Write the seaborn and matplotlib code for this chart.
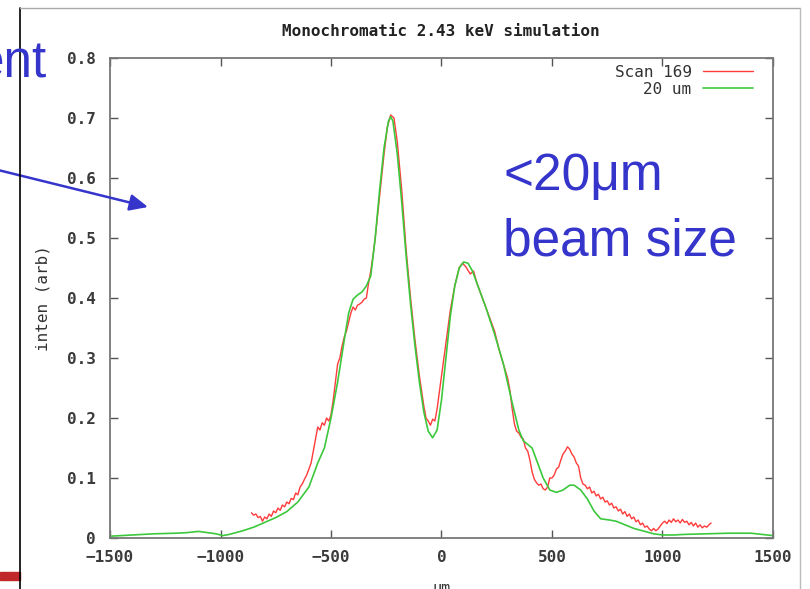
import numpy as np
import pandas as pd
import matplotlib
matplotlib.use("Agg")
import matplotlib.pyplot as plt
from matplotlib.lines import Line2D
from matplotlib.patches import Rectangle
import seaborn as sns

# ---------------- data ----------------
sim_x = [-1500, -1400, -1300, -1200, -1150, -1100, -1060, -1020, -990, -960, -900, -850, -800,
         -750, -700, -650, -600, -560, -530, -500, -470, -440, -420, -400, -380, -360, -340,
         -320, -300, -280, -260, -240, -230, -220, -200, -180, -160, -140, -120, -100, -80,
         -60, -40, -20, 0, 20, 40, 60, 80, 100, 120, 140, 160, 200, 240, 280, 320, 350, 370,
         390, 410, 430, 460, 490, 520, 550, 580, 600, 630, 660, 690, 720, 760, 790, 830, 870,
         920, 960, 1000, 1050, 1100, 1200, 1300, 1400, 1450, 1500]
sim_y = [0.003, 0.005, 0.007, 0.008, 0.009, 0.011, 0.009, 0.007, 0.004, 0.006, 0.012, 0.018, 0.026,
         0.034, 0.044, 0.060, 0.085, 0.125, 0.150, 0.200, 0.260, 0.330, 0.375, 0.398, 0.405, 0.410, 0.420,
         0.437, 0.500, 0.580, 0.650, 0.695, 0.702, 0.695, 0.640, 0.560, 0.470, 0.390, 0.320, 0.260, 0.210,
         0.178, 0.167, 0.180, 0.230, 0.300, 0.370, 0.420, 0.450, 0.460, 0.458, 0.445, 0.425, 0.385, 0.340,
         0.290, 0.225, 0.180, 0.162, 0.156, 0.150, 0.130, 0.100, 0.080, 0.076, 0.080, 0.088, 0.088, 0.080,
         0.065, 0.045, 0.032, 0.030, 0.028, 0.022, 0.016, 0.011, 0.007, 0.005, 0.005, 0.006, 0.007, 0.008,
         0.008, 0.006, 0.004]

scan_x = [-860, -850, -840, -830, -820, -810, -800, -790, -780, -770, -760, -750, -740, -730, -720,
          -710, -700, -690, -680, -670, -660, -650, -640, -630, -620, -610, -600, -590, -580, -570,
          -560, -550, -540, -530, -520, -510, -500, -490, -480, -470, -460, -450, -440, -430, -420,
          -410, -400, -390, -380, -370, -360, -350, -340, -330, -320, -310, -300, -280, -260, -245,
          -230, -215, -200, -180, -160, -140, -120, -100, -80, -70, -60, -50, -40, -30, -20, 0, 20,
          40, 60, 80, 95, 110, 130, 145, 160, 180, 200, 220, 240, 260, 280, 300, 310, 320, 330, 340,
          350, 360, 370, 380, 390, 400, 410, 420, 430, 440, 450, 460, 470, 480, 490, 500, 510, 520,
          530, 540, 550, 560, 570, 580, 590, 600, 610, 620, 630, 640, 650, 660, 670, 680, 690, 700,
          710, 720, 730, 740, 750, 760, 770, 780, 790, 800, 810, 820, 830, 840, 850, 860, 870, 880,
          890, 900, 910, 920, 930, 940, 950, 960, 970, 980, 990, 1000, 1010, 1020, 1030, 1040, 1050,
          1060, 1070, 1080, 1090, 1100, 1110, 1120, 1130, 1140, 1150, 1160, 1170, 1180, 1190, 1200,
          1210, 1220]
scan_y = [0.042, 0.038, 0.040, 0.034, 0.036, 0.028, 0.035, 0.032, 0.040, 0.036, 0.045, 0.042, 0.050,
          0.046, 0.055, 0.052, 0.060, 0.057, 0.066, 0.064, 0.075, 0.072, 0.085, 0.090, 0.098, 0.105,
          0.115, 0.125, 0.145, 0.165, 0.185, 0.180, 0.192, 0.188, 0.200, 0.195, 0.205, 0.230, 0.260,
          0.290, 0.300, 0.320, 0.335, 0.345, 0.360, 0.375, 0.385, 0.380, 0.388, 0.390, 0.393, 0.398,
          0.400, 0.425, 0.445, 0.470, 0.500, 0.570, 0.640, 0.685, 0.705, 0.700, 0.660, 0.580, 0.480,
          0.400, 0.330, 0.270, 0.220, 0.200, 0.195, 0.188, 0.198, 0.195, 0.215, 0.270, 0.325, 0.380,
          0.420, 0.450, 0.458, 0.452, 0.440, 0.445, 0.425, 0.405, 0.385, 0.365, 0.345, 0.315, 0.290,
          0.265, 0.245, 0.215, 0.190, 0.178, 0.175, 0.168, 0.165, 0.150, 0.145, 0.130, 0.110, 0.098,
          0.092, 0.088, 0.090, 0.082, 0.080, 0.085, 0.100, 0.100, 0.105, 0.115, 0.118, 0.130, 0.140,
          0.145, 0.152, 0.148, 0.140, 0.135, 0.125, 0.120, 0.100, 0.090, 0.088, 0.082, 0.085, 0.075,
          0.078, 0.070, 0.073, 0.065, 0.068, 0.060, 0.062, 0.055, 0.058, 0.050, 0.052, 0.045, 0.048,
          0.040, 0.044, 0.036, 0.040, 0.032, 0.035, 0.027, 0.030, 0.022, 0.025, 0.018, 0.020, 0.015,
          0.012, 0.016, 0.012, 0.015, 0.020, 0.025, 0.028, 0.024, 0.030, 0.026, 0.032, 0.027, 0.030,
          0.025, 0.031, 0.026, 0.028, 0.022, 0.026, 0.020, 0.025, 0.018, 0.022, 0.017, 0.020, 0.018,
          0.022, 0.025]

x_ticks = [-1500, -1000, -500, 0, 500, 1000, 1500]
x_ticklabels = ["\u22121500", "\u22121000", "\u2212500", "0", "500", "1000", "1500"]
y_ticks = [0, 0.1, 0.2, 0.3, 0.4, 0.5, 0.6, 0.7, 0.8]
y_ticklabels = ["0", "0.1", "0.2", "0.3", "0.4", "0.5", "0.6", "0.7", "0.8"]

scan_df = pd.DataFrame({"um": scan_x, "inten": scan_y})
sim_df = pd.DataFrame({"um": sim_x, "inten": sim_y})

# ---------------- figure ----------------
sns.set_style("white")
W, H = 810, 589
fig = plt.figure(figsize=(W / 100, H / 100), dpi=100)
mono = "DejaVu Sans Mono"

def fx(px):
    return px / W

def fy(py):
    return 1 - py / H

ax = fig.add_axes([fx(110), fy(538), fx(773) - fx(110), fy(58) - fy(538)])

sns.lineplot(data=scan_df, x="um", y="inten", ax=ax, color="#ff3b3b", lw=1.0,
             estimator=None, label="Scan 169")
sns.lineplot(data=sim_df, x="um", y="inten", ax=ax, color="#3cc83c", lw=1.2,
             estimator=None, label="20 um")

ax.set_xlim(-1500, 1500)
ax.set_ylim(0, 0.8)
ax.set_xticks(x_ticks)
ax.set_xticklabels(x_ticklabels)
ax.set_yticks(y_ticks)
ax.set_yticklabels(y_ticklabels)
for lab in ax.get_xticklabels() + ax.get_yticklabels():
    lab.set_family(mono)
    lab.set_fontsize(11.5)
    lab.set_color("#3a3a3a")
    lab.set_fontweight("bold")
ax.tick_params(direction="in", length=6, width=1, color="#555555",
               top=True, right=True, bottom=True, left=True)
ax.tick_params(axis="y", pad=10)
ax.tick_params(axis="x", pad=9)
for sp in ax.spines.values():
    sp.set_color("#777777")
    sp.set_linewidth(1.3)

ax.set_xlabel("um", family=mono, fontsize=11, color="#333333", labelpad=11)
ax.set_ylabel("inten (arb)", family=mono, fontsize=11.5, color="#333333", labelpad=12)

leg = ax.legend(loc="upper right", frameon=False, markerfirst=False,
                bbox_to_anchor=(fx(753), fy(65)), bbox_transform=fig.transFigure,
                prop={"family": mono, "size": 11.5}, handlelength=3.1,
                borderaxespad=0, borderpad=0, labelspacing=0.1, handletextpad=0.75)
for t in leg.get_texts():
    t.set_color("#333333")

fig.text(fx(441), fy(31), "Monochromatic 2.43 keV simulation", family=mono,
         fontsize=11.5, color="#222222", ha="center", va="center", fontweight="bold")

# slide frame around the chart image
fig.add_artist(Line2D([fx(20), fx(20)], [fy(8), 0], color="black", lw=1.2))
fig.add_artist(Line2D([fx(20), fx(800)], [fy(8), fy(8)], color="#aaaaaa", lw=1.0))
fig.add_artist(Line2D([fx(800), fx(800)], [fy(8), 0], color="#bbbbbb", lw=1.0))
fig.add_artist(Rectangle((0, fy(580)), fx(20), fy(572) - fy(580),
                         transform=fig.transFigure, color="#c0282a"))

# slide annotations
blue = "#3535cc"
fig.text(fx(47), fy(78), "ent", family="Liberation Sans", fontsize=37, color=blue,
         ha="right", va="baseline")
fig.text(fx(503), fy(190), "<20\u03bcm", family="Liberation Sans", fontsize=37, color=blue,
         ha="left", va="baseline")
fig.text(fx(503), fy(255), "beam size", family="Liberation Sans", fontsize=37, color=blue,
         ha="left", va="baseline")
ax.annotate("", xy=(148, H - 207), xycoords="figure pixels",
            xytext=(-2, H - 170), textcoords="figure pixels",
            arrowprops=dict(arrowstyle="-|>,head_length=1.1,head_width=0.5",
                            color=blue, lw=1.8, shrinkA=0, shrinkB=0),
            annotation_clip=False)

fig.savefig("out.png", dpi=100)
